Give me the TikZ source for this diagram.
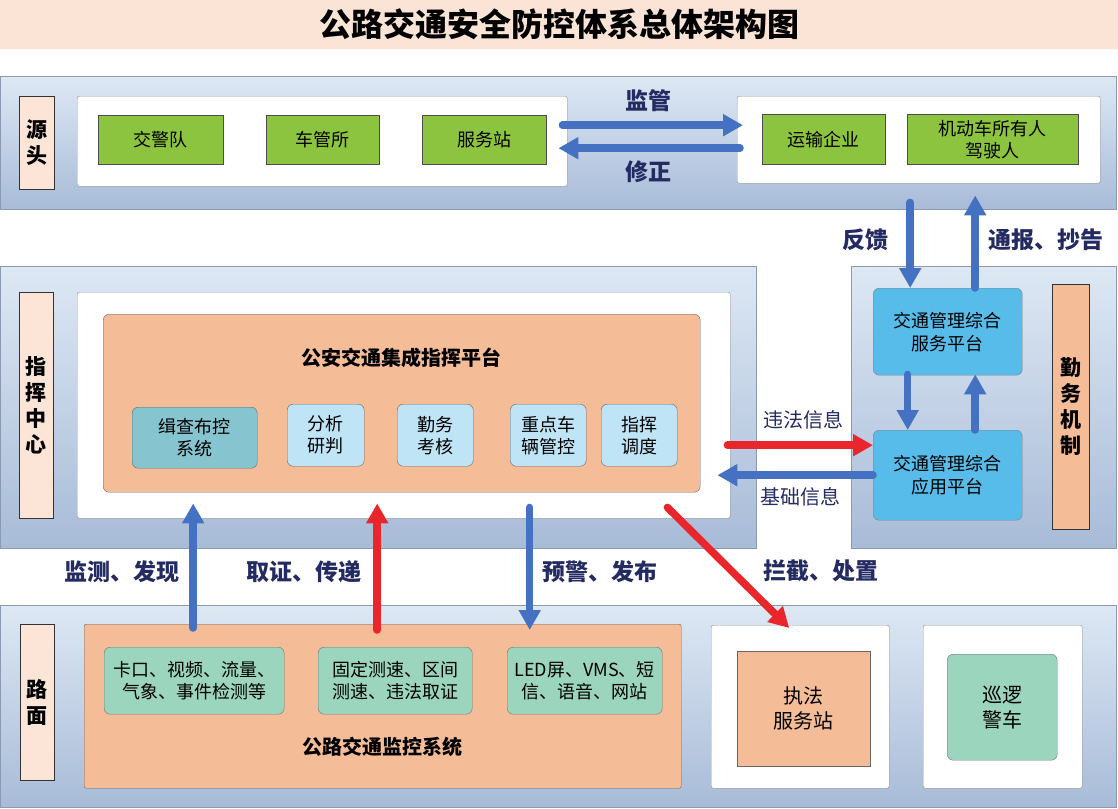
\documentclass[tikz,border=0pt]{standalone}
\usepackage{fontspec}
\setmainfont{Noto Sans CJK SC}
\usetikzlibrary{arrows.meta,calc}
\definecolor{titlepeach}{HTML}{FBE4D5}
\definecolor{bandtop}{HTML}{DDE8F4}
\definecolor{bandbot}{HTML}{A8BBD7}
\definecolor{bandline}{HTML}{8A9AB2}
\definecolor{peach}{HTML}{FCE4D6}
\definecolor{leaf}{HTML}{8DC43F}
\definecolor{apricot}{HTML}{F5BC98}
\definecolor{ice}{HTML}{BEE4F6}
\definecolor{cyanbox}{HTML}{86C4CF}
\definecolor{sky}{HTML}{58BCEB}
\definecolor{mint}{HTML}{9BD5BE}
\definecolor{flowblue}{HTML}{4471C2}
\definecolor{flowred}{HTML}{E8262B}
\definecolor{navy}{HTML}{242B63}
\tikzset{
  titlebar/.style={fill=titlepeach,anchor=north west,inner sep=0pt,
    font=\bfseries\fontsize{32}{36}\selectfont},
  band/.style={draw=bandline,line width=0.8pt,top color=bandtop,bottom color=bandbot,
    anchor=north west,inner sep=0pt},
  tag/.style={draw=black!80,fill=peach,anchor=north west,align=center,inner sep=0pt,
    font=\bfseries\fontsize{21}{26}\selectfont},
  panel/.style={draw=black!45,fill=white,rounded corners=2pt,anchor=north west},
  greenbox/.style={draw=black!70,fill=leaf,anchor=north west,align=center,
    font=\fontsize{18}{22}\selectfont},
  orangebox/.style={draw=black!60,fill=apricot,anchor=north west,align=center},
  subbox/.style={draw=black!60,fill=ice,rounded corners=6pt,anchor=north west,align=center,
    font=\fontsize{18}{22}\selectfont},
  skybox/.style={draw=black!50,fill=sky,rounded corners=6pt,anchor=north west,align=center,
    font=\fontsize{18}{23}\selectfont},
  mintbox/.style={draw=black!55,fill=mint,rounded corners=6pt,anchor=north west,align=center,
    font=\fontsize{18}{22}\selectfont},
  bluearrow/.style={draw=flowblue,line width=7.5pt,line cap=round,-{Triangle[width=21pt,length=20pt]}},
  redarrow/.style={draw=flowred,line width=7.5pt,line cap=round,-{Triangle[width=21pt,length=20pt]}},
  flowlabel/.style={text=navy,font=\bfseries\fontsize{23}{26}\selectfont},
  infolabel/.style={text=navy,font=\fontsize{20}{24}\selectfont},
}
\begin{document}
\begin{tikzpicture}[x=1pt,y=-1pt]
  \useasboundingbox (0,0) rectangle (1118,808);
  % title
  \node[titlebar,minimum width=1118,minimum height=49] (title) at (0,0) {公路交通安全防控体系总体架构图};
  % source layer
  \node[band,minimum width=1116,minimum height=133] (srcband) at (0,76) {};
  \node[tag,minimum width=35,minimum height=93] (srctag) at (19,96) {源\\头};
  \node[panel,minimum width=490,minimum height=90] (srcL) at (77,96) {};
  \node[greenbox,minimum width=125,minimum height=49] (jjd) at (98,115) {交警队};
  \node[greenbox,minimum width=113,minimum height=49] (cgs) at (266,115) {车管所};
  \node[greenbox,minimum width=124,minimum height=49] (fwz) at (422,115) {服务站};
  \node[panel,minimum width=363,minimum height=87] (srcR) at (737,96) {};
  \node[greenbox,minimum width=123,minimum height=50] (ysqy) at (762,114) {运输企业};
  \node[greenbox,minimum width=171,minimum height=50] (jdc) at (907,114) {机动车所有人\\驾驶人};
  % command layer
  \node[band,minimum width=756,minimum height=282] (cmdband) at (0,266) {};
  \node[tag,minimum width=34,minimum height=226] (cmdtag) at (19,292) {指\\挥\\中\\心};
  \node[panel,minimum width=653,minimum height=226] (cmdbox) at (77,292) {};
  \node[orangebox,rounded corners=6pt,minimum width=597,minimum height=178] (cmdpf) at (103,314) {};
  \node[font=\bfseries\fontsize{20}{24}\selectfont] (cmdtitle) at (401.5,358) {公安交通集成指挥平台};
  \node[subbox,fill=cyanbox,minimum width=125,minimum height=61] (jcbk) at (132,407) {缉查布控\\系统};
  \node[subbox,minimum width=77,minimum height=62] (fxpd) at (287,404) {分析\\研判};
  \node[subbox,minimum width=76,minimum height=62] (qwkh) at (397,404) {勤务\\考核};
  \node[subbox,minimum width=76,minimum height=62] (zdcl) at (510,404) {重点车\\辆管控};
  \node[subbox,minimum width=76,minimum height=62] (zhdd) at (601,404) {指挥\\调度};
  % duty layer
  \node[band,minimum width=265,minimum height=282] (dutyband) at (851,266) {};
  \node[skybox,minimum width=149,minimum height=87] (svcpf) at (873,288) {交通管理综合\\服务平台};
  \node[skybox,minimum width=149,minimum height=90] (apppf) at (873,430) {交通管理综合\\应用平台};
  \node[tag,fill=apricot,minimum width=37,minimum height=245] (dutytag) at (1052,284) {勤\\务\\机\\制};
  % road layer
  \node[band,minimum width=1116,minimum height=202] (roadband) at (0,605) {};
  \node[tag,minimum width=34,minimum height=156] (roadtag) at (20,624) {路\\面};
  \node[orangebox,rounded corners=2pt,minimum width=597,minimum height=164] (jkxt) at (84,624) {};
  \node[font=\bfseries\fontsize{20}{24}\selectfont] (jkxttitle) at (382.5,747) {公路交通监控系统};
  \node[mintbox,minimum width=180,minimum height=67] (kk) at (104,647) {卡口、视频、流量、\\气象、事件检测等};
  \node[mintbox,minimum width=154,minimum height=67] (gdcs) at (318,647) {固定测速、区间\\测速、违法取证};
  \node[mintbox,minimum width=155,minimum height=67] (led) at (507,647) {LED屏、VMS、短\\信、语音、网站};
  \node[panel,minimum width=178,minimum height=163] (lawbox) at (711,625) {};
  \node[orangebox,minimum width=133,minimum height=115,font=\fontsize{20}{25}\selectfont] (zfz) at (737,651) {执法\\服务站};
  \node[panel,minimum width=159,minimum height=163] (patbox) at (923,625) {};
  \node[mintbox,minimum width=110,minimum height=106,font=\fontsize{20}{25}\selectfont] (xljc) at (947,654) {巡逻\\警车};
  % flows
  \draw[bluearrow] ($(srcL.east)+(-5,-16)$) -- ($(srcR.west)+(6,-14.5)$);
  \draw[bluearrow] ($(srcR.west)+(3,8.5)$) -- ($(srcL.east)+(-9,7)$);
  \draw[bluearrow] ($(srcR.south)+(-8.5,19)$) -- ($(svcpf.north)+(-37.5,0)$);
  \draw[bluearrow] ($(svcpf.north)+(27.5,0)$) -- ($(srcR.south)+(56.5,12)$);
  \draw[bluearrow] ($(svcpf.south)+(-40,-1)$) -- ($(apppf.north)+(-40,0)$);
  \draw[bluearrow] ($(apppf.north)+(27.5,0)$) -- ($(svcpf.south)+(27.5,-1)$);
  \draw[redarrow] ($(cmdbox.east)+(-3,40)$) -- ($(apppf.west)+(0,-30)$);
  \draw[bluearrow] (apppf.west) -- ($(cmdbox.east)+(-13,70)$);
  \draw[redarrow] ($(cmdpf.south east)+(-33,15)$) -- ($(lawbox.north)+(-11,3)$);
  \draw[bluearrow] ($(jkxt.north)+(-189.5,4)$) -- ($(cmdpf.south)+(-208.5,11)$);
  \draw[redarrow] ($(jkxt.north)+(-5.5,6)$) -- ($(cmdpf.south)+(-24.5,11)$);
  \draw[bluearrow] ($(cmdpf.south)+(128,15)$) -- ($(jkxt.north)+(147,6)$);
  % flow labels
  \node[flowlabel] (jglbl) at (648,101) {监管};
  \node[flowlabel] (xzlbl) at (648,172) {修正};
  \node[flowlabel] (fklbl) at (865,240) {反馈};
  \node[flowlabel] (tblbl) at (1046,240) {通报、抄告};
  \node[infolabel] (wflbl) at (803,420) {违法信息};
  \node[infolabel] (jclbl) at (800,497) {基础信息};
  \node[flowlabel] (ljlbl) at (821,571) {拦截、处置};
  \node[flowlabel] (jclbl2) at (122,572) {监测、发现};
  \node[flowlabel] (qzlbl) at (304,572) {取证、传递};
  \node[flowlabel] (yjlbl) at (600,572) {预警、发布};
\end{tikzpicture}
\end{document}
